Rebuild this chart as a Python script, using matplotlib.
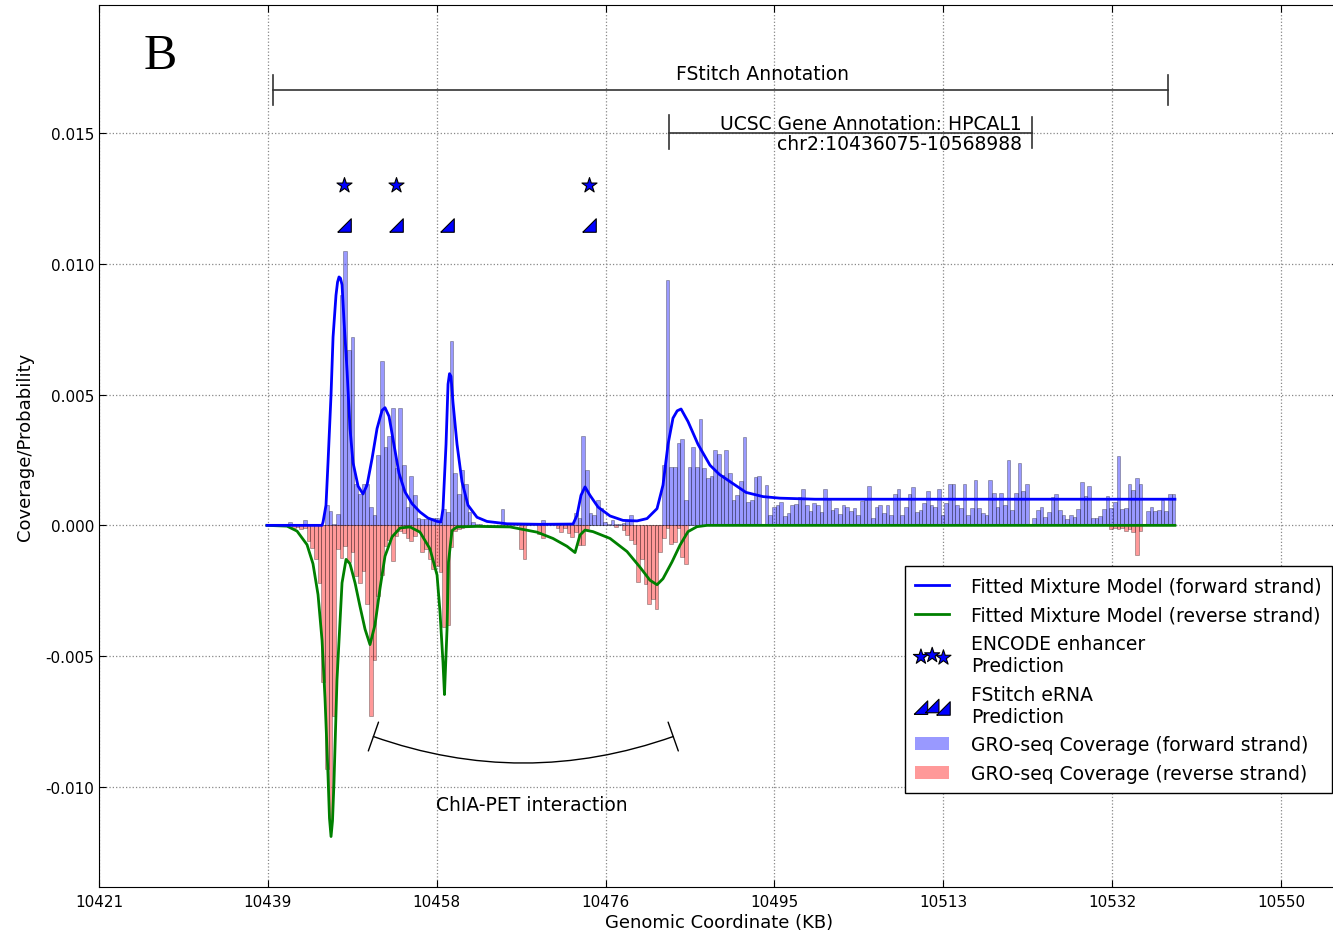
import numpy as np
import matplotlib
matplotlib.use('Agg')
import matplotlib.pyplot as plt
from matplotlib.patches import FancyArrowPatch, Patch
from matplotlib.lines import Line2D
from matplotlib.ticker import FormatStrFormatter

plt.rcParams['font.family'] = ['DejaVu Sans']
plt.rcParams['axes.unicode_minus'] = False

#region: ------------------------- Data -------------------------
# GRO-seq coverage per 0.4 KB bin (units of 1e-4), starting at BIN_START
BIN_START = 10439.65
BIN_WIDTH = 0.4
fwd_cov = [
    0, 0, 0, 0, 0, 1.2, 0, 0, 0, 2.2,
    0.5, 0, 0, 0, 0, 7.8, 5.6, 0.7, 4.4, 88,
    105, 67, 72, 16, 12, 16, 16, 7, 4, 27,
    63, 30, 34, 45, 22, 45, 23, 7, 19, 11.5,
    3, 2.5, 2.5, 3, 3, 3, 1.3, 6.4, 5, 70.5,
    20, 12, 21, 16, 5, 1.3, 0.6, 0.5, 0, 0,
    0, 0, 0, 6.4, 0, 0, 0, 0, 0, 0,
    0.5, 0, 0, 0, 2, 0, 0, 0, 0, 0,
    0, 0, 0, 4.6, 3, 34, 21, 4.6, 4, 9.7,
    6.5, 1.4, 0.5, 2, 0.5, 0.5, 0.8, 2, 4, 0,
    0, 0, 0, 0, 0, 0, 0, 23, 94, 22.5,
    22.5, 31.5, 33, 9.7, 22.5, 30, 22.5, 40.5, 22, 18,
    19, 28.7, 27.4, 19.1, 28.7, 20, 9.7, 11.7, 16.8, 33.7,
    9.1, 9.7, 18.5, 19, 0, 15.3, 4, 7.2, 7.8, 9.1,
    3.7, 4.6, 7.8, 8.2, 10.8, 13.8, 7.6, 5.3, 8.5, 7.6,
    5, 14, 9.7, 5.9, 6.8, 4.2, 7.6, 7.2, 5.6, 6.5,
    4, 9.4, 9.7, 14.9, 2.7, 7.2, 7.8, 4.6, 7.6, 4,
    12, 13.8, 4, 7.2, 12, 14.6, 5, 6, 8.5, 13.2,
    7.8, 7.2, 14, 4, 8.5, 16, 16, 7.6, 6.5, 16,
    4, 6.5, 17.4, 6.5, 4.6, 4, 17.4, 12.3, 7.2, 12.3,
    7.6, 25, 5.9, 12.3, 24, 13.2, 16, 0, 2.7, 5.9,
    7.2, 3.3, 5, 11, 12, 5.9, 4, 2.3, 4, 3.3,
    6.3, 16.5, 11.4, 14.9, 2.7, 2.7, 3.6, 6.3, 11.4, 6.5,
    9.1, 26.7, 6.3, 6.5, 16, 13.6, 18.3, 16, 0, 5.3,
    7.2, 5.3, 5.9, 9.7, 5.3, 12, 12,
]
rev_cov = [
    0, 0, 0, 0, 0, 0, 1.2, 0.5, 1.5, 1,
    6, 8.8, 13, 22, 60, 93, 116, 73, 9, 12.5,
    8, 14, 10, 19.5, 22, 17.6, 30, 73, 51.5, 27,
    19, 8, 5.5, 13.8, 4.2, 2.3, 3, 4.9, 5.8, 4.2,
    2, 10, 9, 12.8, 16.7, 15.4, 18, 39, 38, 8.3,
    2, 1.3, 1, 0, 0, 0, 0, 0, 0, 0,
    0, 0, 0, 0, 0, 0, 0, 0, 9, 12.8,
    0, 0, 0, 3.2, 5, 0, 0, 0, 1, 2.4,
    1, 3, 4.4, 2.4, 7.6, 7.6, 1.5, 0, 0, 0,
    0, 0, 0, 0, 0.5, 0, 1.8, 3.7, 5.6, 7,
    21.7, 12.7, 22.3, 30, 28, 32, 10, 5, 1, 7.3,
    6.3, 1, 12, 14.6, 0, 0, 0, 0, 0, 0,
] + [0] * 100 + [
    0, 0, 0, 0, 0, 0, 0, 0, 0, 1.5,
    1.2, 1.5, 1.2, 2, 1.5, 2.4, 11.4, 2, 0, 0,
    0, 0, 0, 0, 0, 0, 0,
]

# fitted mixture model, forward strand (KB, units of 1e-4)
fwd_fit_x = [10439.33, 10445.34, 10445.45, 10445.77, 10445.99, 10446.32, 10446.54,
             10446.86, 10447.03, 10447.19, 10447.35, 10447.52, 10447.74, 10448.07,
             10448.39, 10448.72, 10449.27, 10449.81, 10450.25, 10450.80, 10451.34,
             10451.89, 10452.21, 10452.65, 10453.19, 10453.74, 10454.39, 10455.16,
             10456.03, 10456.90, 10457.89, 10458.32, 10458.54, 10458.87, 10459.09,
             10459.25, 10459.41, 10459.63, 10460.07, 10460.61, 10461.27, 10462.25,
             10463.34, 10465.52, 10469.13, 10472.73, 10473.16, 10473.60, 10474.04,
             10474.58, 10475.46, 10476.77, 10478.19, 10479.72, 10480.81, 10481.90,
             10482.55, 10483.10, 10483.64, 10484.10, 10484.52, 10485.28, 10486.37,
             10487.68, 10488.70, 10489.75, 10491.61, 10493.46, 10495.32, 10499.14,
             10538.42]
fwd_fit_y = [0, 0, 1.3, 7.7, 24, 50, 72,
             88, 93, 95, 94.5, 92, 78, 59,
             37, 24, 15, 12, 15.4, 25.6, 37,
             44, 45, 41.7, 30.8, 19.9, 12.8, 8.3,
             5.1, 2.8, 1.5, 1.3, 6.4, 31, 54,
             58, 57, 47, 31, 16.7, 7.7, 3.1,
             1.5, 0.6, 0.4, 0.5, 3.8, 11.5, 14.7,
             11.5, 7, 3.6, 1.9, 1.7, 2.6, 6.4,
             15.4, 31, 41, 43.8, 44.5, 39.7, 31,
             23, 19.5, 17, 12.6, 11, 10.4, 10,
             10]

# fitted mixture model, reverse strand (KB, magnitude in units of 1e-4)
rev_fit_x = [10439.33, 10441.52, 10442.61, 10443.70, 10444.35, 10444.90, 10445.34,
             10445.66, 10445.99, 10446.15, 10446.32, 10446.48, 10446.64, 10446.97,
             10447.52, 10447.96, 10448.39, 10448.94, 10449.48, 10450.03, 10450.57,
             10451.12, 10451.67, 10452.21, 10452.98, 10453.85, 10454.94, 10456.03,
             10457.12, 10457.89, 10458.21, 10458.54, 10458.70, 10458.98, 10459.14,
             10459.52, 10460.07, 10462.25, 10465.85, 10468.80, 10470.54, 10472.07,
             10472.95, 10473.49, 10474.04, 10474.91, 10476.77, 10478.62, 10480.04,
             10481.13, 10481.90, 10482.55, 10483.53, 10484.40, 10485.28, 10486.26,
             10487.35, 10538.42]
rev_fit_y = [0, 0.3, 2.2, 7.4, 14.7, 26.5, 44,
             66, 95.6, 112, 119, 113, 98.5, 59,
             22, 13, 14.7, 22, 31, 39.7, 45.6,
             38, 24, 11.8, 4.4, 1, 0.6, 2.6,
             9, 19, 33, 52.5, 64.7, 39.7, 14,
             2, 0.6, 0.4, 0.6, 2.6, 5, 8,
             10.4, 3.7, 1.8, 2.4, 5, 10, 16,
             21, 22.7, 20.4, 14, 7.6, 2.4, 0.5,
             0, 0]

# enhancer / eRNA predictions (KB)
encode_x = [10447.74, 10453.41, 10474.47]
fstitch_x = [10447.74, 10453.41, 10458.98, 10474.47]
ENCODE_Y = 0.0130
FSTITCH_Y = 0.0115

# annotations (KB)
fstitch_span = [10439.99, 10537.66]
ucsc_span = [10483.21, 10522.83]
chia_pet_span = [10450.66, 10483.95]

x_ticks = np.linspace(10421, 10550, 8)
x_tick_labels = ['10421', '10439', '10458', '10476', '10495', '10513', '10532', '10550']
y_ticks = [-0.010, -0.005, 0.000, 0.005, 0.010, 0.015]
#endregion

#region: ------------------------- Plot -------------------------
fig = plt.figure(figsize=(13.33, 9.37), dpi=100)
ax = fig.add_axes([0.0743, 0.0523, 0.93, 0.9413])

scale = 1e-4
bins_x = BIN_START + BIN_WIDTH * np.arange(len(fwd_cov))
ax.bar(bins_x, np.array(fwd_cov) * scale, width=BIN_WIDTH, align='edge',
       color='blue', alpha=0.4, edgecolor='black', linewidth=0.5, zorder=2)
ax.bar(bins_x[:len(rev_cov)], -np.array(rev_cov) * scale, width=BIN_WIDTH, align='edge',
       color='red', alpha=0.4, edgecolor='black', linewidth=0.5, zorder=2)

ax.plot(rev_fit_x, -np.array(rev_fit_y) * scale, color='green', lw=2, zorder=3)
ax.plot(fwd_fit_x, np.array(fwd_fit_y) * scale, color='blue', lw=2, zorder=4)

# custom right-triangle marker for FStitch eRNA calls
wedge = [(-1, -1), (1, -1), (1, 1), (-1, -1)]
ax.scatter(encode_x, [ENCODE_Y] * len(encode_x), marker='*', s=130,
           color='blue', edgecolor='black', linewidth=0.8, zorder=5)
ax.scatter(fstitch_x, [FSTITCH_Y] * len(fstitch_x), marker=wedge, s=95,
           color='blue', edgecolor='black', linewidth=0.8, zorder=5)

# FStitch / UCSC span brackets
ann_col = '#333333'
fy = 0.01666
ax.plot(fstitch_span, [fy, fy], color=ann_col, lw=1.2)
for xx in fstitch_span:
    ax.plot([xx, xx], [fy - 0.000575, fy + 0.000575], color=ann_col, lw=1.2)
ax.text(10493.46, 0.01727, 'FStitch Annotation', ha='center', va='center', fontsize=13.5)

uy = 0.01502
ax.plot(ucsc_span, [uy, uy], color=ann_col, lw=1.2)
ax.plot([ucsc_span[0]] * 2, [uy - 0.00062, uy + 0.00068], color=ann_col, lw=1.2)
ax.plot([ucsc_span[1]] * 2, [uy - 0.00058, uy + 0.00058], color=ann_col, lw=1.2)
ax.text(10521.73, 0.01500, 'UCSC Gene Annotation: HPCAL1\nchr2:10436075-10568988',
        ha='right', va='center', multialignment='right', fontsize=13.5, linespacing=1.05)

# ChIA-PET interaction arc
arc = FancyArrowPatch((chia_pet_span[0], -0.00804), (chia_pet_span[1], -0.00804),
                      arrowstyle='|-|,widthA=0.55,widthB=0.55',
                      connectionstyle='arc3,rad=0.18', mutation_scale=20,
                      color='black', lw=1.0, zorder=5)
ax.add_patch(arc)
ax.text(10468.25, -0.01069, 'ChIA-PET interaction', ha='center', va='center', fontsize=13.5)

ax.set_xlim(10421, 10556.3)
ax.set_ylim(-0.01383, 0.0199)
ax.set_xticks(x_ticks)
ax.set_xticklabels(x_tick_labels)
ax.set_yticks(y_ticks)
ax.yaxis.set_major_formatter(FormatStrFormatter('%.3f'))
ax.tick_params(direction='in', top=True, right=True, labelsize=11, length=5)
ax.tick_params(axis='x', pad=5)
ax.grid(True, linestyle=':', color='#888888', lw=0.9)
ax.set_axisbelow(True)
ax.set_xlabel('Genomic Coordinate (KB)', fontsize=13, labelpad=3)
ax.set_ylabel('Coverage/Probability', fontsize=13, labelpad=8)

fig.text(0.12, 0.939, 'B', fontsize=36, family='Liberation Serif', ha='center', va='center')

handles = [
    Line2D([], [], color='blue', lw=2),
    Line2D([], [], color='green', lw=2),
    ax.collections[0],
    ax.collections[1],
    Patch(facecolor='blue', alpha=0.4),
    Patch(facecolor='red', alpha=0.4),
]
labels = [
    'Fitted Mixture Model (forward strand)',
    'Fitted Mixture Model (reverse strand)',
    'ENCODE enhancer\nPrediction',
    'FStitch eRNA\nPrediction',
    'GRO-seq Coverage (forward strand)',
    'GRO-seq Coverage (reverse strand)',
]
leg = ax.legend(handles, labels, loc='upper left', bbox_to_anchor=(905 / 1333, 1 - 567 / 937),
                bbox_transform=fig.transFigure, borderaxespad=0, fontsize=13.5,
                scatterpoints=3, fancybox=False, framealpha=1, edgecolor='black',
                handlelength=1.8, handletextpad=1.15, borderpad=0.55, labelspacing=0.52)
leg.get_frame().set_linewidth(1.0)

fig.savefig('out.png', dpi=100)
#endregion
